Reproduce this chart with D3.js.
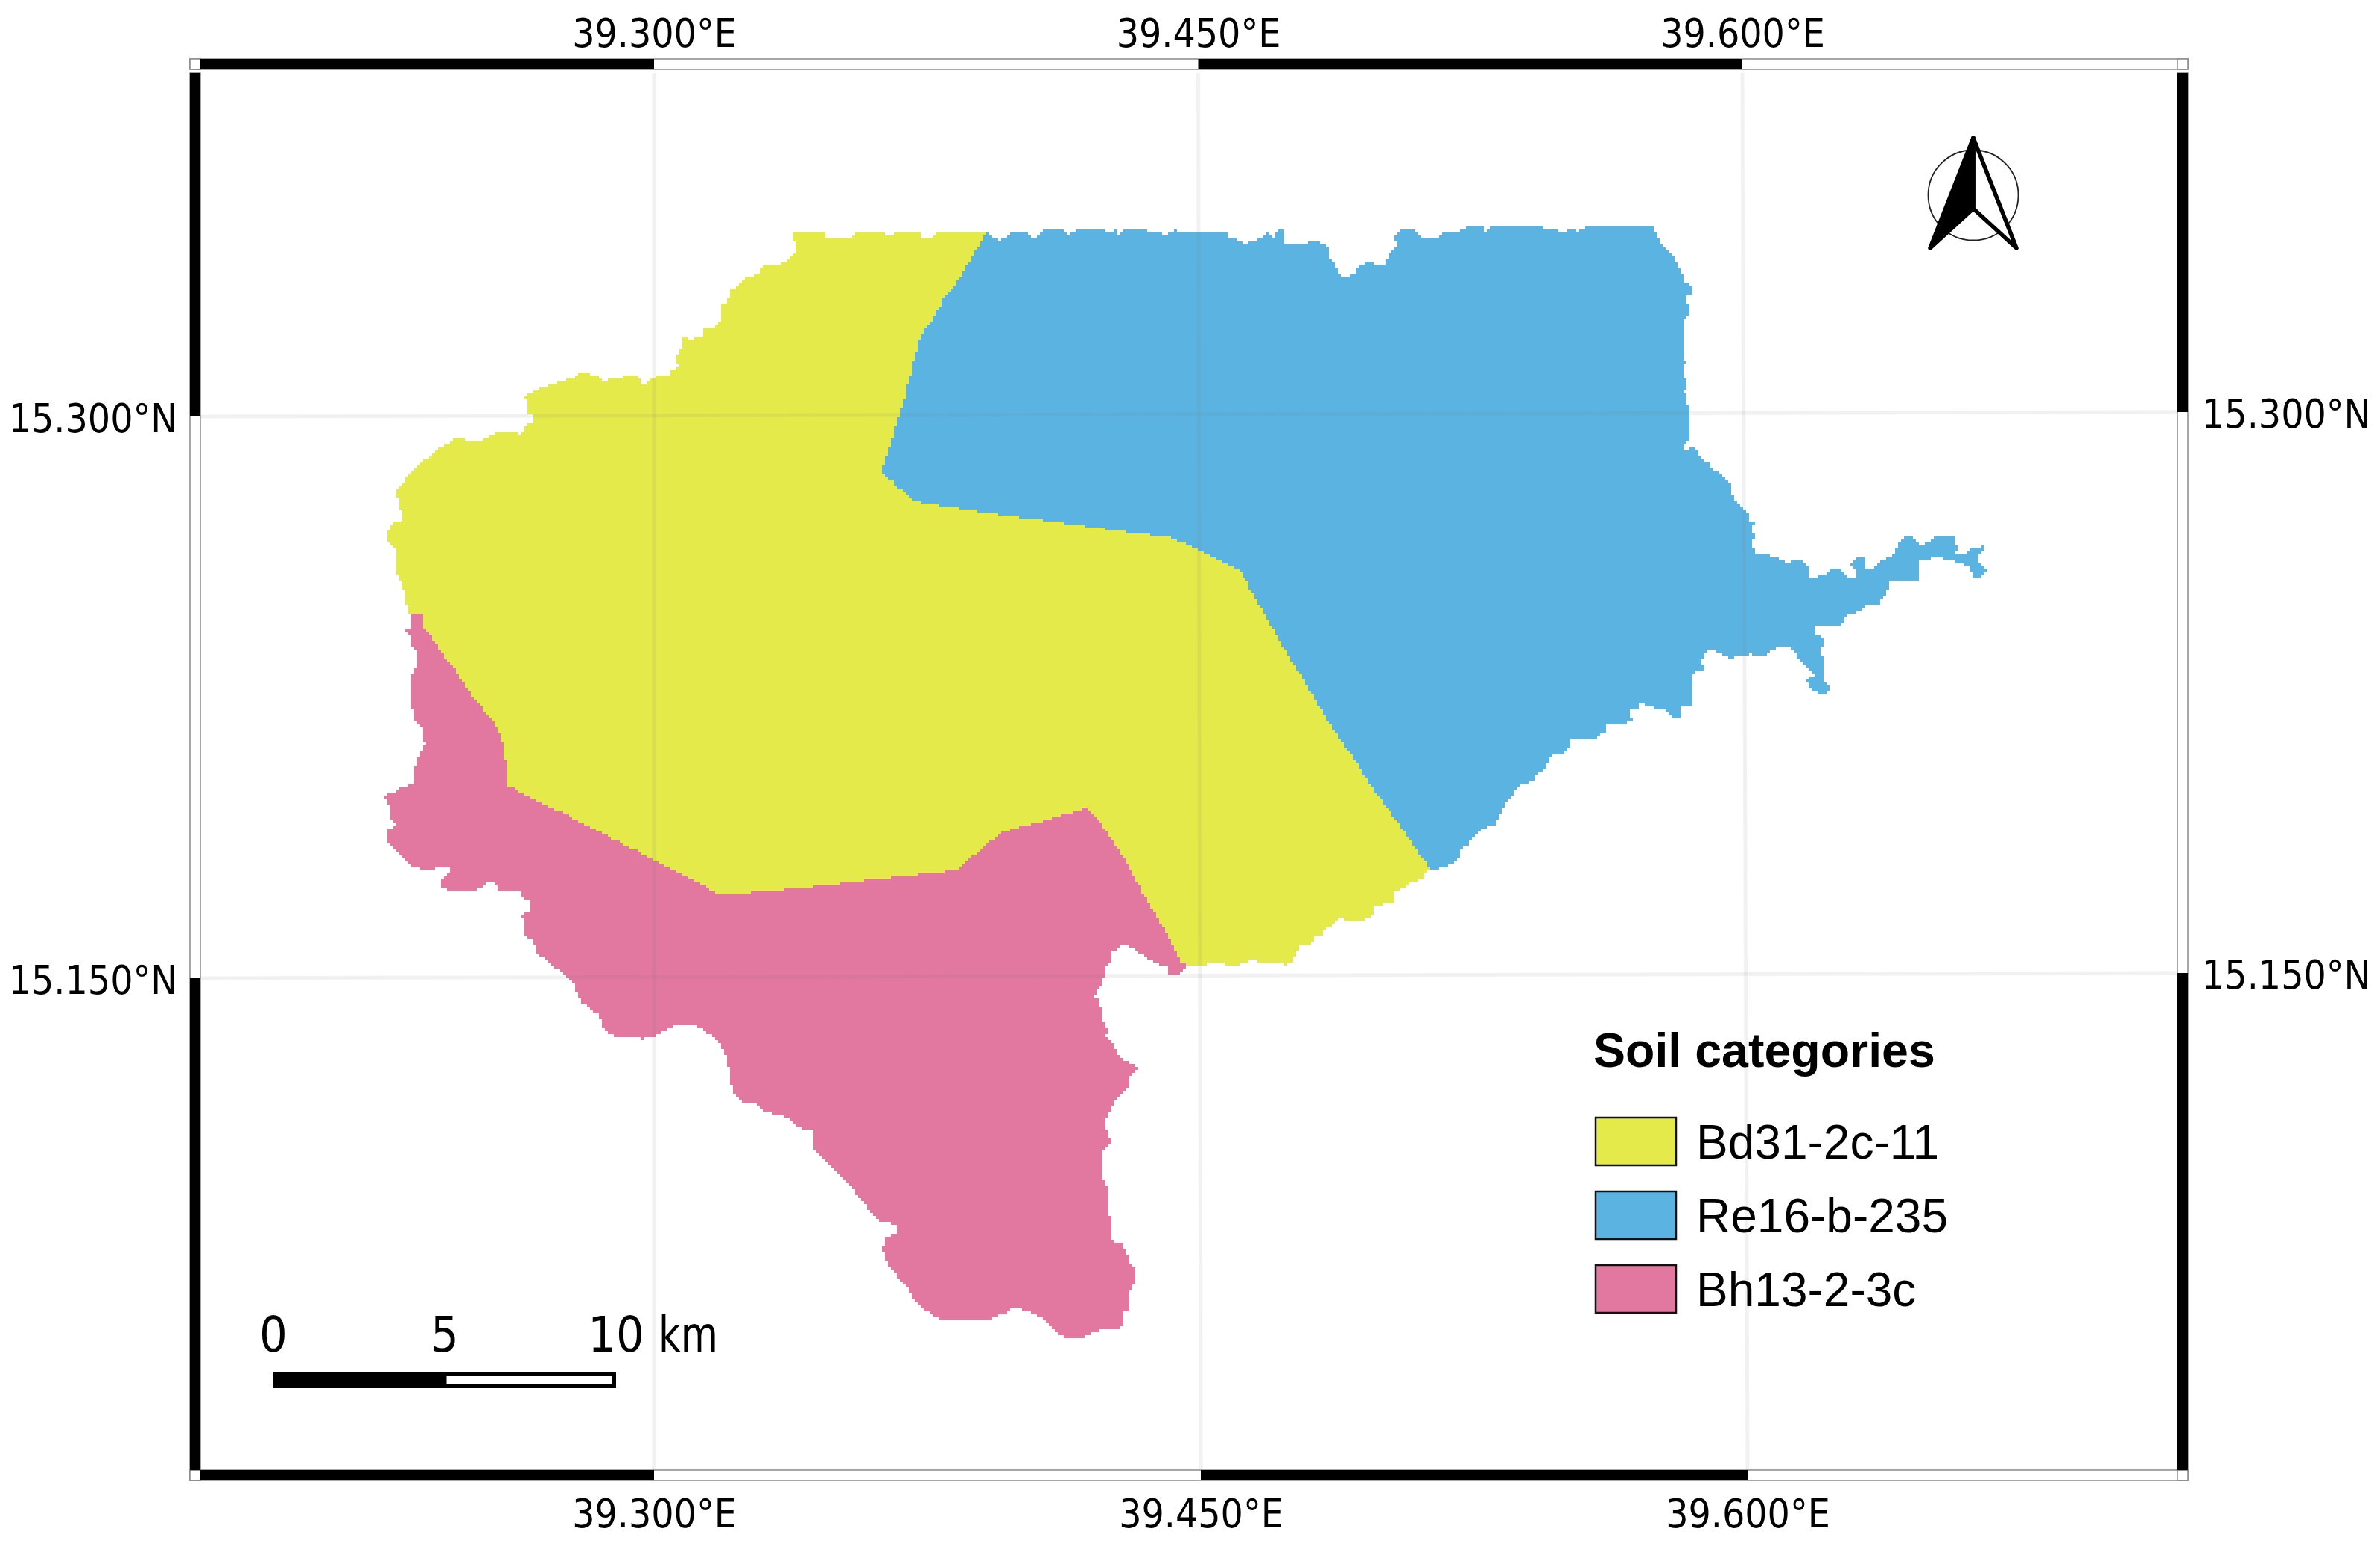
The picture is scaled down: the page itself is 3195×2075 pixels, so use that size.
<!DOCTYPE html>
<html>
<head>
<meta charset="utf-8">
<script src="https://cdn.jsdelivr.net/npm/d3@7"></script>
<style>
html, body { margin: 0; background: #fff; }
svg { display: block; }
.tick-label { font-family: "DejaVu Sans", sans-serif; font-stretch: condensed; fill: #000; }
.legend-text { font-family: "Liberation Sans", Arial, sans-serif; fill: #000; }
</style>
</head>
<body>
<div id="map"></div>
<script>
// soil unit names and the graticule labels
var categories = ['Bd31-2c-11', 'Re16-b-235', 'Bh13-2-3c'];
var lonTicks = [39.3, 39.45, 39.6];
var latTicks = [15.3, 15.15];
var scaleKm = [0, 5, 10];

// boundaries as [lon, lat], split where the units meet
// north and west edge of Bd31, from the Re16 junction to the Bh13 junction
var bdNorthWest = [[39.3914,15.3492],[39.3783,15.3492],[39.3773,15.3482],[39.3742,15.3472],[39.3730,15.3490],[39.3685,15.3492],[39.3658,15.3488],[39.3635,15.3486],[39.3631,15.3492],[39.3555,15.3492],[39.3545,15.3480],[39.3519,15.3478],[39.3476,15.3480],[39.3467,15.3492],[39.3391,15.3492],[39.3383,15.3490],[39.3383,15.3472],[39.3389,15.3466],[39.3389,15.3438],[39.3375,15.3422],[39.3348,15.3406],[39.3303,15.3402],[39.3287,15.3380],[39.3246,15.3368],[39.3225,15.3342],[39.3211,15.3336],[39.3209,15.3322],[39.3197,15.3300],[39.3186,15.3298],[39.3186,15.3260],[39.3170,15.3240],[39.3141,15.3236],[39.3133,15.3210],[39.3115,15.3210],[39.3109,15.3202],[39.3096,15.3210],[39.3080,15.3210],[39.3078,15.3190],[39.3070,15.3172],[39.3063,15.3160],[39.3063,15.3140],[39.3070,15.3130],[39.3047,15.3120],[39.3045,15.3110],[39.3016,15.3108],[39.3000,15.3104],[39.2986,15.3096],[39.2982,15.3088],[39.2963,15.3088],[39.2959,15.3104],[39.2930,15.3106],[39.2881,15.3100],[39.2869,15.3092],[39.2858,15.3092],[39.2850,15.3108],[39.2813,15.3116],[39.2795,15.3112],[39.2791,15.3106],[39.2772,15.3102],[39.2742,15.3090],[39.2703,15.3078],[39.2680,15.3070],[39.2649,15.3056],[39.2645,15.3046],[39.2653,15.3036],[39.2653,15.3004],[39.2668,15.3000],[39.2668,15.2984],[39.2647,15.2970],[39.2639,15.2950],[39.2617,15.2956],[39.2602,15.2960],[39.2567,15.2954],[39.2555,15.2946],[39.2524,15.2932],[39.2492,15.2930],[39.2483,15.2938],[39.2453,15.2940],[39.2436,15.2926],[39.2416,15.2916],[39.2397,15.2906],[39.2389,15.2896],[39.2375,15.2886],[39.2360,15.2872],[39.2336,15.2850],[39.2323,15.2840],[39.2315,15.2830],[39.2305,15.2810],[39.2295,15.2802],[39.2289,15.2786],[39.2295,15.2780],[39.2297,15.2746],[39.2307,15.2742],[39.2307,15.2720],[39.2297,15.2714],[39.2274,15.2710],[39.2272,15.2694],[39.2264,15.2690],[39.2264,15.2666],[39.2280,15.2652],[39.2289,15.2640],[39.2289,15.2578],[39.2297,15.2566],[39.2309,15.2550],[39.2315,15.2510],[39.2325,15.2472],[39.2330,15.2472]];

// border between Bd31 and Bh13
var bdBhBorder = [[39.2330,15.2472],[39.2364,15.2472],[39.2366,15.2432],[39.2393,15.2400],[39.2418,15.2360],[39.2448,15.2326],[39.2465,15.2292],[39.2485,15.2266],[39.2504,15.2242],[39.2530,15.2210],[39.2567,15.2162],[39.2576,15.2140],[39.2584,15.2120],[39.2590,15.2080],[39.2592,15.2006],[39.2610,15.2002],[39.2680,15.1964],[39.2754,15.1932],[39.2828,15.1892],[39.2899,15.1856],[39.2973,15.1820],[39.3047,15.1782],[39.3119,15.1746],[39.3178,15.1714],[39.3240,15.1716],[39.3281,15.1722],[39.3406,15.1732],[39.3594,15.1754],[39.3832,15.1780],[39.3873,15.1814],[39.3957,15.1882],[39.4191,15.1948],[39.4211,15.1926],[39.4240,15.1890],[39.4267,15.1850],[39.4296,15.1806],[39.4322,15.1760],[39.4355,15.1700],[39.4390,15.1642],[39.4423,15.1586],[39.4451,15.1532],[39.4462,15.1526]];

// outer edge of Bh13, west side, south tip and back up the east side
var bhOuter = [[39.2330,15.2472],[39.2336,15.2462],[39.2336,15.2432],[39.2321,15.2426],[39.2315,15.2420],[39.2328,15.2406],[39.2330,15.2382],[39.2344,15.2370],[39.2350,15.2360],[39.2348,15.2326],[39.2338,15.2312],[39.2332,15.2286],[39.2330,15.2250],[39.2336,15.2216],[39.2338,15.2190],[39.2348,15.2172],[39.2362,15.2166],[39.2364,15.2128],[39.2371,15.2118],[39.2360,15.2096],[39.2350,15.2084],[39.2346,15.2064],[39.2338,15.2042],[39.2336,15.2010],[39.2319,15.2006],[39.2299,15.2002],[39.2289,15.1992],[39.2270,15.1988],[39.2260,15.1980],[39.2266,15.1956],[39.2274,15.1950],[39.2274,15.1932],[39.2280,15.1912],[39.2287,15.1904],[39.2280,15.1894],[39.2264,15.1892],[39.2264,15.1860],[39.2280,15.1840],[39.2297,15.1826],[39.2315,15.1810],[39.2336,15.1786],[39.2369,15.1782],[39.2393,15.1782],[39.2395,15.1790],[39.2434,15.1790],[39.2438,15.1776],[39.2432,15.1762],[39.2414,15.1754],[39.2414,15.1736],[39.2428,15.1728],[39.2459,15.1724],[39.2498,15.1726],[39.2524,15.1730],[39.2541,15.1748],[39.2563,15.1748],[39.2569,15.1728],[39.2596,15.1726],[39.2631,15.1720],[39.2637,15.1710],[39.2656,15.1698],[39.2656,15.1672],[39.2635,15.1656],[39.2647,15.1636],[39.2647,15.1602],[39.2670,15.1592],[39.2674,15.1564],[39.2703,15.1540],[39.2719,15.1522],[39.2748,15.1510],[39.2776,15.1476],[39.2799,15.1426],[39.2846,15.1390],[39.2863,15.1352],[39.2893,15.1330],[39.2965,15.1328],[39.3000,15.1332],[39.3041,15.1356],[39.3061,15.1368],[39.3066,15.1362],[39.3117,15.1360],[39.3154,15.1340],[39.3182,15.1312],[39.3203,15.1272],[39.3207,15.1230],[39.3217,15.1186],[39.3248,15.1156],[39.3277,15.1154],[39.3305,15.1132],[39.3359,15.1120],[39.3394,15.1090],[39.3435,15.1082],[39.3441,15.1032],[39.3471,15.1000],[39.3523,15.0950],[39.3570,15.0896],[39.3601,15.0852],[39.3629,15.0834],[39.3664,15.0830],[39.3666,15.0806],[39.3635,15.0790],[39.3629,15.0762],[39.3635,15.0734],[39.3664,15.0696],[39.3691,15.0664],[39.3722,15.0616],[39.3756,15.0590],[39.3779,15.0576],[39.3865,15.0570],[39.3920,15.0570],[39.3961,15.0590],[39.3982,15.0602],[39.4004,15.0602],[39.4035,15.0592],[39.4074,15.0572],[39.4101,15.0538],[39.4127,15.0528],[39.4177,15.0528],[39.4214,15.0540],[39.4250,15.0552],[39.4281,15.0550],[39.4293,15.0564],[39.4293,15.0592],[39.4306,15.0600],[39.4308,15.0628],[39.4312,15.0658],[39.4322,15.0668],[39.4322,15.0714],[39.4306,15.0734],[39.4300,15.0762],[39.4291,15.0776],[39.4271,15.0778],[39.4255,15.0802],[39.4257,15.0838],[39.4250,15.0872],[39.4250,15.0906],[39.4244,15.0940],[39.4232,15.0954],[39.4230,15.1016],[39.4240,15.1034],[39.4261,15.1048],[39.4250,15.1072],[39.4244,15.1092],[39.4240,15.1102],[39.4250,15.1128],[39.4261,15.1148],[39.4269,15.1162],[39.4300,15.1190],[39.4310,15.1224],[39.4330,15.1244],[39.4326,15.1262],[39.4306,15.1264],[39.4275,15.1286],[39.4265,15.1320],[39.4240,15.1336],[39.4250,15.1352],[39.4234,15.1376],[39.4230,15.1410],[39.4224,15.1430],[39.4211,15.1440],[39.4220,15.1458],[39.4234,15.1476],[39.4240,15.1506],[39.4244,15.1528],[39.4259,15.1540],[39.4261,15.1562],[39.4296,15.1586],[39.4320,15.1570],[39.4341,15.1552],[39.4378,15.1530],[39.4412,15.1520],[39.4414,15.1502],[39.4439,15.1502],[39.4464,15.1516],[39.4462,15.1526]];

// south east edge of Bd31
var bdSouthEast = [[39.4462,15.1526],[39.4511,15.1522],[39.4527,15.1534],[39.4556,15.1532],[39.4589,15.1522],[39.4624,15.1532],[39.4638,15.1542],[39.4667,15.1534],[39.4695,15.1532],[39.4734,15.1528],[39.4753,15.1532],[39.4767,15.1556],[39.4775,15.1578],[39.4808,15.1582],[39.4814,15.1602],[39.4839,15.1604],[39.4845,15.1624],[39.4861,15.1630],[39.4876,15.1646],[39.4890,15.1656],[39.4900,15.1648],[39.4949,15.1646],[39.4978,15.1660],[39.4984,15.1684],[39.5034,15.1694],[39.5038,15.1720],[39.5062,15.1736],[39.5095,15.1752],[39.5118,15.1760],[39.5122,15.1776],[39.5134,15.1788]];

// border between Bd31 and Re16
var bdReBorder = [[39.5134,15.1788],[39.5101,15.1832],[39.5050,15.1906],[39.5005,15.1962],[39.4968,15.2016],[39.4929,15.2076],[39.4884,15.2136],[39.4845,15.2196],[39.4812,15.2250],[39.4777,15.2310],[39.4744,15.2360],[39.4712,15.2416],[39.4613,15.2584],[39.4480,15.2650],[39.4416,15.2674],[39.4291,15.2690],[39.4082,15.2718],[39.3902,15.2742],[39.3814,15.2756],[39.3719,15.2770],[39.3703,15.2786],[39.3670,15.2810],[39.3652,15.2830],[39.3631,15.2844],[39.3631,15.2866],[39.3642,15.2896],[39.3652,15.2932],[39.3670,15.2996],[39.3687,15.3042],[39.3709,15.3130],[39.3730,15.3210],[39.3765,15.3262],[39.3797,15.3316],[39.3836,15.3362],[39.3867,15.3416],[39.3892,15.3452],[39.3914,15.3492]];

// outer edge of Re16, along the top, out to the eastern arm and back
var reOuter = [[39.3914,15.3492],[39.3927,15.3480],[39.3947,15.3470],[39.3968,15.3482],[39.3982,15.3492],[39.4019,15.3492],[39.4037,15.3480],[39.4050,15.3480],[39.4068,15.3498],[39.4123,15.3498],[39.4138,15.3486],[39.4156,15.3498],[39.4238,15.3498],[39.4250,15.3492],[39.4271,15.3498],[39.4275,15.3486],[39.4293,15.3498],[39.4359,15.3496],[39.4380,15.3492],[39.4408,15.3486],[39.4429,15.3498],[39.4455,15.3492],[39.4496,15.3496],[39.4511,15.3492],[39.4546,15.3496],[39.4574,15.3492],[39.4576,15.3478],[39.4599,15.3476],[39.4619,15.3460],[39.4660,15.3470],[39.4685,15.3492],[39.4703,15.3480],[39.4716,15.3500],[39.4736,15.3500],[39.4732,15.3466],[39.4744,15.3458],[39.4785,15.3460],[39.4812,15.3470],[39.4841,15.3462],[39.4857,15.3446],[39.4861,15.3420],[39.4874,15.3400],[39.4888,15.3370],[39.4923,15.3378],[39.4935,15.3402],[39.4970,15.3416],[39.4980,15.3404],[39.5011,15.3404],[39.5025,15.3442],[39.5044,15.3460],[39.5036,15.3486],[39.5060,15.3500],[39.5093,15.3500],[39.5111,15.3474],[39.5148,15.3474],[39.5169,15.3492],[39.5204,15.3492],[39.5239,15.3506],[39.5280,15.3506],[39.5286,15.3494],[39.5300,15.3506],[39.5423,15.3506],[39.5478,15.3500],[39.5505,15.3488],[39.5519,15.3506],[39.5540,15.3494],[39.5567,15.3506],[39.5747,15.3506],[39.5763,15.3472],[39.5788,15.3440],[39.5804,15.3422],[39.5821,15.3392],[39.5835,15.3356],[39.5856,15.3346],[39.5856,15.3330],[39.5841,15.3316],[39.5849,15.3272],[39.5835,15.3256],[39.5835,15.3190],[39.5829,15.3170],[39.5837,15.3142],[39.5829,15.3116],[39.5841,15.3080],[39.5835,15.3066],[39.5845,15.3022],[39.5849,15.2990],[39.5851,15.2970],[39.5843,15.2926],[39.5829,15.2920],[39.5835,15.2906],[39.5860,15.2920],[39.5876,15.2890],[39.5897,15.2876],[39.5917,15.2852],[39.5946,15.2836],[39.5960,15.2816],[39.5970,15.2776],[39.5987,15.2760],[39.6011,15.2740],[39.6011,15.2720],[39.6030,15.2712],[39.6018,15.2692],[39.6028,15.2672],[39.6020,15.2662],[39.6030,15.2630],[39.6083,15.2622],[39.6095,15.2610],[39.6120,15.2606],[39.6143,15.2616],[39.6171,15.2600],[39.6175,15.2562],[39.6216,15.2574],[39.6239,15.2588],[39.6264,15.2586],[39.6288,15.2562],[39.6309,15.2564],[39.6309,15.2586],[39.6292,15.2600],[39.6307,15.2620],[39.6329,15.2616],[39.6329,15.2590],[39.6356,15.2588],[39.6372,15.2608],[39.6411,15.2626],[39.6423,15.2658],[39.6438,15.2672],[39.6458,15.2672],[39.6485,15.2652],[39.6518,15.2666],[39.6524,15.2674],[39.6581,15.2674],[39.6581,15.2652],[39.6589,15.2646],[39.6575,15.2626],[39.6598,15.2626],[39.6626,15.2644],[39.6657,15.2650],[39.6659,15.2636],[39.6641,15.2622],[39.6643,15.2602],[39.6667,15.2590],[39.6663,15.2576],[39.6649,15.2562],[39.6626,15.2570],[39.6622,15.2590],[39.6598,15.2604],[39.6557,15.2612],[39.6534,15.2624],[39.6499,15.2610],[39.6479,15.2610],[39.6479,15.2582],[39.6485,15.2570],[39.6477,15.2558],[39.6442,15.2556],[39.6401,15.2552],[39.6397,15.2532],[39.6372,15.2496],[39.6346,15.2490],[39.6329,15.2492],[39.6327,15.2474],[39.6294,15.2470],[39.6274,15.2456],[39.6270,15.2440],[39.6196,15.2438],[39.6196,15.2416],[39.6214,15.2402],[39.6214,15.2382],[39.6210,15.2362],[39.6220,15.2346],[39.6220,15.2316],[39.6214,15.2312],[39.6214,15.2282],[39.6229,15.2280],[39.6235,15.2262],[39.6229,15.2254],[39.6208,15.2254],[39.6188,15.2264],[39.6167,15.2286],[39.6175,15.2300],[39.6192,15.2304],[39.6171,15.2324],[39.6153,15.2340],[39.6136,15.2372],[39.6114,15.2384],[39.6085,15.2376],[39.6067,15.2370],[39.6063,15.2352],[39.6044,15.2356],[39.6032,15.2352],[39.6022,15.2364],[39.6013,15.2356],[39.5977,15.2354],[39.5966,15.2344],[39.5925,15.2368],[39.5915,15.2376],[39.5897,15.2366],[39.5882,15.2346],[39.5888,15.2316],[39.5858,15.2310],[39.5858,15.2220],[39.5825,15.2220],[39.5823,15.2190],[39.5806,15.2190],[39.5784,15.2210],[39.5751,15.2212],[39.5743,15.2222],[39.5712,15.2226],[39.5706,15.2212],[39.5685,15.2218],[39.5690,15.2180],[39.5661,15.2168],[39.5620,15.2174],[39.5618,15.2152],[39.5597,15.2136],[39.5560,15.2136],[39.5521,15.2132],[39.5519,15.2110],[39.5501,15.2094],[39.5472,15.2092],[39.5462,15.2076],[39.5456,15.2050],[39.5427,15.2036],[39.5417,15.2020],[39.5394,15.2014],[39.5374,15.2004],[39.5362,15.1982],[39.5339,15.1956],[39.5333,15.1936],[39.5312,15.1902],[39.5273,15.1892],[39.5267,15.1876],[39.5245,15.1862],[39.5241,15.1850],[39.5222,15.1836],[39.5214,15.1810],[39.5183,15.1792],[39.5157,15.1784],[39.5140,15.1782],[39.5134,15.1788]];

var w = 3195, h = 2075;
var colors = ['#e3ea4a', '#5ab3e0', '#e277a0'];

var svg = d3.select('#map').append('svg').attr('width', w).attr('height', h);

// frame bands, inner and outer edge of each
var frameL = 255, frameR = 2937, frameT = 79, frameB = 1987, band = 14;

// map position of a coordinate
var x = d3.scaleLinear().domain([39.3, 39.45]).range([878, 1610]);
var y = d3.scaleLinear().domain([15.3, 15.15]).range([558, 1308]);

// the graticule is slightly tilted so every side of the frame has its own scale
var xTop = d3.scaleLinear().domain([39.3, 39.6]).range([878, 2339]);
var xBottom = d3.scaleLinear().domain([39.3, 39.6]).range([878, 2346]);
var yLeft = d3.scaleLinear().domain([15.3, 15.15]).range([559, 1313]);
var yRight = d3.scaleLinear().domain([15.3, 15.15]).range([553, 1306]);

// the source layer is a raster, so walk each arc and snap it to the cell grid
var cell = 4;
function stairs(arc) {
	var pts = [];
	function snap(v) { return Math.round(v / cell) * cell; }
	for (var i = 0; i < arc.length - 1; i++) {
		var x0 = x(arc[i][0]), y0 = y(arc[i][1]), x1 = x(arc[i + 1][0]), y1 = y(arc[i + 1][1]);
		var n = Math.ceil(Math.hypot(x1 - x0, y1 - y0) / 2);
		for (var k = 0; k <= n; k++) {
			var px = snap(x0 + (x1 - x0) * k / n), py = snap(y0 + (y1 - y0) * k / n);
			var last = pts[pts.length - 1];
			if (last && last[0] == px && last[1] == py) continue;
			if (last && last[0] != px && last[1] != py) pts.push([px, last[1]]);
			pts.push([px, py]);
		}
	}
	return pts;
}

var northWest = stairs(bdNorthWest), bdBh = stairs(bdBhBorder), southEast = stairs(bdSouthEast),
	bdRe = stairs(bdReBorder), bhEdge = stairs(bhOuter), reEdge = stairs(reOuter);

var polygons = [
	northWest.concat(bdBh, southEast, bdRe),
	reEdge.concat(bdRe),
	bhEdge.concat(bdBh.slice().reverse())
];

var line = d3.line();
svg.append('g').selectAll('path')
	.data(polygons)
	.enter().append('path')
	.attr('d', function(d) { return line(d) + 'Z'; })
	.attr('fill', function(d, i) { return colors[i]; });

// graticule on top of the soil units
var grid = svg.append('g').attr('stroke', '#808080').attr('stroke-opacity', 0.11).attr('stroke-width', 5);
grid.selectAll('.lon').data(lonTicks).enter().append('line')
	.attr('x1', xTop).attr('y1', frameT + band + 5)
	.attr('x2', xBottom).attr('y2', frameB - band);
grid.selectAll('.lat').data(latTicks).enter().append('line')
	.attr('x1', frameL + band).attr('y1', yLeft)
	.attr('x2', frameR - band).attr('y2', yRight);

// frame: white bands with a thin outline, black pieces every other interval
var outline = '#8a8a8a';
var frame = svg.append('g');
function bandRect(x0, y0, x1, y1, fill) {
	frame.append('rect')
		.attr('x', x0).attr('y', y0)
		.attr('width', x1 - x0).attr('height', y1 - y0)
		.attr('fill', fill)
		.attr('stroke', fill == '#000' ? 'none' : outline)
		.attr('stroke-width', 1.5);
}
// top and bottom
bandRect(frameL, frameT, frameR, frameT + band, '#fff');
bandRect(frameL, frameB - band, frameR, frameB, '#fff');
bandRect(frameL, frameT, frameL + band, frameT + band, '#fff');
bandRect(frameR - band, frameT, frameR, frameT + band, '#fff');
bandRect(frameL, frameB - band, frameL + band, frameB, '#fff');
bandRect(frameR - band, frameB - band, frameR, frameB, '#fff');
// left and right
bandRect(frameL, frameT + band + 5, frameL + band, frameB - band, '#fff');
bandRect(frameR - band, frameT + band + 5, frameR, frameB - band, '#fff');

bandRect(frameL + band, frameT, xTop(lonTicks[0]), frameT + band, '#000');
bandRect(xTop(lonTicks[1]), frameT, xTop(lonTicks[2]), frameT + band, '#000');
bandRect(frameL + band, frameB - band, xBottom(lonTicks[0]), frameB, '#000');
bandRect(xBottom(lonTicks[1]), frameB - band, xBottom(lonTicks[2]), frameB, '#000');

bandRect(frameL, frameT + band + 5, frameL + band, yLeft(latTicks[0]), '#000');
bandRect(frameL, yLeft(latTicks[1]), frameL + band, frameB - band, '#000');
bandRect(frameR - band, frameT + band + 5, frameR, yRight(latTicks[0]), '#000');
bandRect(frameR - band, yRight(latTicks[1]), frameR, frameB - band, '#000');

// tick labels through d3 axes
function lonLabel(d) { return d.toFixed(3) + '°E'; }
function latLabel(d) { return d.toFixed(3) + '°N'; }
function styleAxis(g) {
	g.attr('font-size', null).attr('font-family', null);
	g.select('.domain').remove();
	g.selectAll('.tick line').remove();
	g.selectAll('text').attr('class', 'tick-label').attr('font-size', 53);
}
svg.append('g').attr('transform', 'translate(0,' + frameT + ')')
	.call(d3.axisTop(xTop).tickValues(lonTicks).tickFormat(lonLabel).tickSize(0).tickPadding(16))
	.call(styleAxis);
svg.append('g').attr('transform', 'translate(0,' + frameB + ')')
	.call(d3.axisBottom(xBottom).tickValues(lonTicks).tickFormat(lonLabel).tickSize(0).tickPadding(25))
	.call(styleAxis);
svg.append('g').attr('transform', 'translate(' + frameL + ',0)')
	.call(d3.axisLeft(yLeft).tickValues(latTicks).tickFormat(latLabel).tickSize(0).tickPadding(17))
	.call(styleAxis)
	.selectAll('text').attr('dy', '0.38em');
svg.append('g').attr('transform', 'translate(' + frameR + ',0)')
	.call(d3.axisRight(yRight).tickValues(latTicks).tickFormat(latLabel).tickSize(0).tickPadding(19))
	.call(styleAxis)
	.selectAll('text').attr('dy', '0.38em');

// legend
var legend = svg.append('g');
legend.append('text').attr('class', 'legend-text')
	.attr('x', 2139).attr('y', 1432)
	.attr('font-size', 64.5).attr('font-weight', 'bold')
	.text('Soil categories');
var legendY = d3.scalePoint().domain(categories).range([1500, 1698]);
var rows = legend.selectAll('.row').data(categories).enter().append('g')
	.attr('transform', function(d) { return 'translate(2142,' + legendY(d) + ')'; });
rows.append('rect')
	.attr('width', 108).attr('height', 64)
	.attr('fill', function(d, i) { return colors[i]; })
	.attr('stroke', '#111').attr('stroke-width', 2.5);
rows.append('text').attr('class', 'legend-text')
	.attr('x', 135).attr('y', 55)
	.attr('font-size', 64)
	.text(function(d) { return d; });

// scale bar
var km = d3.scaleLinear().domain([0, 10]).range([367, 827]);
var barTop = 1842, barH = 21;
svg.append('rect')
	.attr('x', km(5)).attr('y', barTop + 2.5)
	.attr('width', km(10) - km(5) - 2.5).attr('height', barH - 5)
	.attr('fill', '#fff').attr('stroke', '#000').attr('stroke-width', 5);
svg.append('rect')
	.attr('x', km(0)).attr('y', barTop)
	.attr('width', km(5) - km(0)).attr('height', barH)
	.attr('fill', '#000');
svg.selectAll('.km').data(scaleKm).enter().append('text')
	.attr('class', 'tick-label')
	.attr('x', km).attr('y', 1814)
	.attr('font-size', 66).attr('text-anchor', 'middle')
	.text(function(d) { return d; });
svg.append('text').attr('class', 'tick-label')
	.attr('x', 884).attr('y', 1814)
	.attr('font-size', 66)
	.attr('textLength', 80).attr('lengthAdjust', 'spacingAndGlyphs')
	.text('km');

// north arrow
var north = svg.append('g').attr('transform', 'translate(2649,262)');
north.append('circle').attr('r', 60.5).attr('fill', 'none').attr('stroke', '#222').attr('stroke-width', 1.8);
north.append('path').attr('d', 'M0,-77L58,71L0,18Z')
	.attr('fill', '#fff').attr('stroke', '#000').attr('stroke-width', 5.5).attr('stroke-linejoin', 'round');
north.append('path').attr('d', 'M0,-77L-58,71L0,18Z')
	.attr('fill', '#000').attr('stroke', '#000').attr('stroke-width', 5.5).attr('stroke-linejoin', 'round');
</script>
</body>
</html>
